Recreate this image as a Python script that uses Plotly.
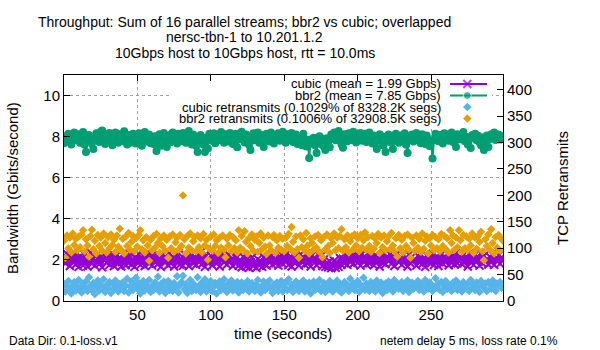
import plotly.graph_objects as go

# ---------------- data ----------------
time_s = list(range(0, 300))

cubic_gbps = [
    2.22, 1.84, 2.30, 1.96, 1.70, 2.14, 1.88, 2.34, 1.78, 2.08,
    1.66, 2.18, 2.02, 1.74, 2.26, 1.92, 1.68, 2.12, 2.36, 1.82,
    2.04, 1.72, 1.94, 2.28, 1.80, 2.16, 1.64, 2.06, 2.32, 1.86,
    2.20, 1.76, 1.98, 2.30, 1.70, 1.90, 2.24, 1.84, 2.10, 1.68,
    2.26, 1.94, 1.74, 2.18, 1.86, 2.34, 1.78, 2.04, 1.66, 2.14,
    1.90, 2.28, 1.76, 2.00, 2.22, 1.70, 1.96, 2.38, 1.82, 2.12,
    1.72, 2.20, 1.88, 2.30, 1.80, 2.06, 1.66, 2.24, 1.92, 2.16,
    1.98, 1.74, 2.32, 1.84, 2.10, 1.68, 2.26, 1.90, 2.34, 1.78,
    2.02, 1.72, 2.28, 1.94, 2.18, 1.70, 2.00, 2.30, 1.82, 2.14,
    1.76, 2.24, 1.88, 2.36, 1.80, 2.08, 1.66, 2.22, 1.86, 2.04,
    2.20, 1.74, 1.96, 2.28, 1.84, 2.12, 1.68, 2.06, 2.32, 1.88,
    2.10, 1.78, 2.26, 1.92, 2.02, 1.70, 2.18, 1.82, 2.14, 1.72,
    1.94, 1.64, 2.16, 1.80, 1.68, 2.06, 1.62, 1.90, 2.12, 1.70,
    1.86, 1.62, 2.04, 1.74, 1.92, 1.66, 2.14, 1.78, 1.72, 2.08,
    1.88, 2.24, 1.76, 2.10, 1.84, 2.30, 1.72, 2.00, 2.26, 1.80,
    2.16, 1.90, 2.34, 1.76, 2.06, 1.68, 2.28, 1.86, 2.20, 1.96,
    1.72, 2.26, 1.90, 2.12, 1.78, 2.32, 1.84, 2.16, 1.68, 2.22,
    1.96, 2.06, 1.74, 2.28, 1.86, 2.18, 1.70, 2.02, 1.66, 1.84,
    1.64, 1.92, 1.60, 1.74, 1.96, 1.62, 1.82, 1.66, 2.08, 1.76,
    2.06, 1.84, 2.24, 1.76, 2.14, 1.90, 2.32, 1.80, 2.10, 2.20,
    1.86, 2.18, 1.72, 2.30, 1.94, 2.04, 1.78, 2.34, 1.84, 2.12,
    2.00, 1.74, 2.24, 1.90, 2.10, 1.68, 2.20, 1.86, 2.32, 1.80,
    2.14, 1.94, 2.28, 1.82, 2.18, 1.70, 2.06, 2.30, 1.88, 2.00,
    1.76, 2.22, 1.92, 2.12, 1.68, 2.26, 1.84, 2.16, 1.96, 2.02,
    1.72, 2.20, 1.88, 2.28, 1.80, 2.06, 1.66, 2.22, 1.92, 2.10,
    1.84, 2.30, 1.76, 2.02, 2.18, 1.70, 1.98, 2.26, 1.82, 2.14,
    1.90, 2.06, 1.74, 2.28, 1.86, 2.20, 1.78, 2.36, 1.84, 2.10,
    2.00, 1.80, 2.24, 1.92, 2.16, 1.68, 2.30, 1.88, 2.06, 1.76,
    2.26, 1.96, 2.10, 1.72, 2.34, 1.84, 2.20, 1.92, 2.02, 1.78,
    2.16, 1.88, 2.28, 1.76, 2.06, 1.94, 2.22, 1.82, 2.12, 1.98,
]

bbr2_gbps = [
    7.68, 8.02, 7.76, 8.14, 7.90, 7.62, 8.06, 8.20, 7.82, 7.96,
    8.12, 7.70, 7.94, 8.22, 7.60, 7.25, 7.86, 8.08, 7.98, 7.66,
    7.40, 7.92, 8.16, 8.00, 7.74, 8.24, 8.30, 7.88, 7.64, 8.10,
    7.96, 8.18, 7.80, 7.58, 8.04, 8.20, 7.86, 7.70, 8.12, 7.94,
    7.78, 8.26, 7.98, 7.62, 8.08, 7.90, 7.72, 8.14, 8.00, 7.66,
    7.92, 8.16, 7.84, 7.56, 8.04, 8.22, 7.76, 7.96, 8.10, 7.68,
    7.90, 7.64, 8.02, 7.30, 7.82, 8.12, 7.56, 7.94, 8.18, 7.80,
    7.50, 7.98, 8.08, 7.74, 8.20, 7.86, 8.02, 7.66, 8.14, 7.92,
    7.78, 8.18, 7.96, 7.70, 8.06, 8.28, 7.88, 7.62, 8.10, 7.84,
    7.55, 7.25, 7.90, 8.08, 7.72, 7.60, 7.25, 7.96, 7.42, 8.14,
    7.98, 7.80, 8.16, 7.68, 8.02, 8.10, 7.84, 8.22, 7.92, 7.70,
    8.12, 7.88, 7.76, 8.18, 7.98, 7.64, 8.04, 8.14, 7.48, 7.86,
    8.06, 8.24, 7.90, 7.72, 8.10, 7.96, 7.60, 7.35, 7.88, 8.16,
    7.82, 8.02, 8.20, 7.70, 7.94, 8.08, 7.50, 7.86, 8.14, 7.96,
    7.76, 8.20, 7.98, 7.66, 8.06, 7.88, 8.16, 7.80, 8.02, 8.24,
    7.92, 7.70, 8.12, 7.98, 7.84, 8.18, 7.74, 7.96, 8.10, 7.64,
    8.00, 7.80, 7.58, 8.14, 7.88, 7.52, 7.74, 6.96, 7.86, 7.66,
    7.94, 7.58, 7.20, 7.82, 8.02, 7.64, 7.90, 7.52, 7.35, 7.92,
    7.78, 7.48, 8.10, 7.96, 8.20, 7.82, 8.04, 8.28, 7.88, 7.62,
    7.46, 8.12, 7.94, 7.78, 8.16, 8.00, 7.84, 8.24, 7.96, 7.72,
    8.08, 7.88, 8.18, 7.80, 8.02, 8.14, 7.74, 7.96, 8.20, 7.86,
    7.66, 8.06, 7.92, 7.40, 7.84, 8.12, 7.90, 7.58, 8.00, 7.25,
    7.86, 8.10, 7.74, 7.98, 7.40, 7.82, 8.14, 7.94, 7.70, 8.06,
    7.90, 7.78, 8.16, 7.60, 7.20, 7.86, 8.02, 8.10, 7.76, 7.98,
    8.18, 7.82, 8.04, 7.68, 8.12, 7.94, 7.64, 8.06, 7.86, 7.54,
    7.76, 6.93, 7.84, 8.14, 7.98, 7.78, 8.08, 7.90, 7.66, 8.16,
    7.94, 8.10, 7.80, 8.02, 8.20, 7.74, 7.96, 7.50, 8.12, 7.86,
    8.04, 7.88, 8.22, 7.78, 8.00, 7.62, 7.90, 7.45, 8.08, 7.94,
    8.14, 7.82, 8.04, 7.72, 7.58, 7.96, 7.35, 7.80, 8.06, 7.50,
    7.88, 8.12, 7.96, 8.20, 7.84, 8.04, 8.10, 7.86, 7.98, 8.02,
]

cubic_retrans = [
    32, 18, 27, 38, 22, 14, 30, 36, 20, 28,
    40, 24, 16, 33, 26, 37, 19, 45, 29, 21,
    34, 13, 28, 39, 20, 31, 24, 41, 17, 30,
    25, 36, 15, 33, 22, 39, 27, 18, 32, 23,
    35, 19, 29, 42, 16, 28, 37, 21, 31, 44,
    23, 34, 14, 27, 38, 20, 31, 25, 40, 17,
    29, 21, 35, 26, 46, 18, 32, 23, 37, 15,
    27, 38, 21, 31, 19, 34, 25, 47, 16, 30,
    36, 48, 22, 32, 15, 27, 40, 19, 33, 24,
    21, 45, 29, 17, 35, 25, 41, 18, 31, 23,
    38, 19, 27, 34, 14, 29, 37, 21, 31, 41,
    25, 17, 33, 27, 39, 20, 31, 23, 36, 16,
    29, 35, 21, 31, 25, 38, 18, 27, 34, 22,
    19, 31, 40, 25, 16, 29, 37, 21, 33, 27,
    39, 23, 15, 31, 25, 35, 19, 29, 38, 18,
    27, 34, 21, 41, 23, 31, 17, 29, 37, 25,
    19, 33, 27, 39, 18, 31, 23, 35, 14, 29,
    37, 21, 31, 25, 40, 19, 27, 34, 17, 29,
    23, 38, 27, 18, 33, 25, 39, 21, 31, 16,
    29, 36, 23, 31, 19, 42, 25, 33, 21, 29,
    38, 17, 31, 25, 44, 21, 33, 27, 19, 36,
    25, 31, 18, 39, 27, 23, 35, 15, 29, 33,
    21, 37, 27, 31, 18, 40, 25, 33, 23, 29,
    36, 19, 31, 25, 39, 17, 29, 35, 23, 31,
    27, 38, 21, 33, 25, 18, 40, 29, 23, 35,
    31, 19, 27, 43, 25, 33, 21, 36, 17, 29,
    38, 23, 31, 27, 19, 35, 25, 39, 21, 31,
    27, 18, 36, 29, 23, 33, 19, 40, 25, 31,
    21, 35, 27, 17, 38, 29, 25, 33, 19, 36,
    31, 23, 39, 27, 19, 33, 29, 36, 25, 31,
]

bbr2_retrans = [
    114, 82, 124, 100, 120, 92, 128, 106, 118, 96,
    122, 102, 126, 134, 94, 117, 105, 84, 123, 135,
    98, 114, 90, 125, 104, 120, 95, 128, 110, 92,
    121, 100, 126, 106, 116, 93, 124, 103, 137, 96,
    118, 90, 122, 104, 129, 97, 112, 123, 94, 119,
    103, 125, 134, 98, 115, 92, 121, 105, 76, 116,
    96, 123, 101, 127, 110, 91, 119, 104, 124, 95,
    116, 82, 122, 100, 126, 93, 111, 120, 97, 125,
    104, 200, 117, 90, 123, 101, 128, 96, 113, 121,
    94, 124, 102, 119, 92, 127, 105, 116, 78, 99,
    122, 95, 126, 104, 115, 91, 120, 101, 124, 97,
    83, 118, 105, 125, 94, 121, 100, 115, 92, 134,
    101, 123, 96, 132, 112, 90, 119, 104, 126, 95,
    116, 122, 93, 110, 128, 98, 120, 103, 89, 124,
    105, 96, 121, 125, 91, 115, 101, 123, 97, 118,
    94, 120, 104, 127, 99, 140, 112, 92, 122, 98,
    82, 124, 102, 117, 95, 129, 105, 90, 119, 110,
    97, 122, 101, 125, 93, 115, 83, 121, 98, 126,
    104, 91, 119, 110, 128, 96, 120, 100, 123, 136,
    95, 117, 102, 124, 92, 113, 122, 98, 126, 105,
    119, 94, 125, 101, 115, 130, 97, 121, 104, 93,
    123, 99, 118, 110, 127, 91, 120, 102, 124, 96,
    113, 122, 98, 129, 105, 94, 119, 84, 125, 100,
    116, 92, 123, 104, 126, 97, 82, 120, 110, 95,
    124, 101, 118, 93, 128, 99, 114, 122, 90, 119,
    105, 125, 96, 121, 100, 117, 94, 127, 104, 123,
    98, 119, 92, 134, 110, 124, 97, 120, 102, 134,
    115, 93, 125, 100, 122, 96, 118, 105, 128, 91,
    120, 99, 123, 112, 131, 94, 77, 117, 104, 126,
    97, 136, 110, 90, 121, 101, 125, 95, 118, 114,
]

series_names = [
    "cubic (mean = 1.99 Gbps)",
    "bbr2 (mean = 7.85 Gbps)",
    "cubic retransmits (0.1029% of 8328.2K segs)",
    "bbr2 retransmits (0.1006% of 32908.5K segs)",
]
title_lines = [
    "Throughput: Sum of 16 parallel streams; bbr2 vs cubic; overlapped",
    "nersc-tbn-1 to 10.201.1.2",
    "10Gbps host to 10Gbps host, rtt = 10.0ms",
]
x_ticks = [50, 100, 150, 200, 250]
y_ticks = [0, 2, 4, 6, 8, 10]
y2_ticks = [0, 50, 100, 150, 200, 250, 300, 350, 400]

# ---------------- style ----------------
FONT = "Liberation Sans, Arial, sans-serif"
C_CUBIC = "#9400D3"
C_BBR2 = "#009E73"
C_CRET = "#56B4E9"
C_BRET = "#E69F00"
GRID = "#a0a0a0"

fig = go.Figure()

fig.add_trace(go.Scatter(
    x=time_s, y=cubic_gbps, mode="lines+markers", name=series_names[0],
    line=dict(color=C_CUBIC, width=2),
    marker=dict(symbol="x-thin", size=8, line=dict(color=C_CUBIC, width=2), color=C_CUBIC),
    xaxis="x", yaxis="y", showlegend=False))
fig.add_trace(go.Scatter(
    x=time_s, y=bbr2_gbps, mode="lines+markers", name=series_names[1],
    line=dict(color=C_BBR2, width=2),
    marker=dict(symbol="circle", size=8, color=C_BBR2),
    xaxis="x", yaxis="y", showlegend=False))
fig.add_trace(go.Scatter(
    x=time_s, y=cubic_retrans, mode="markers", name=series_names[2],
    marker=dict(symbol="diamond", size=6.5, color=C_CRET),
    xaxis="x", yaxis="y2", showlegend=False))
fig.add_trace(go.Scatter(
    x=time_s, y=bbr2_retrans, mode="markers", name=series_names[3],
    marker=dict(symbol="diamond", size=6.5, color=C_BRET),
    xaxis="x", yaxis="y2", showlegend=False))

# ---------------- key (drawn on a hidden overlay axis, unit coordinates) ----------------
key_box_x = [0.24, 0.975, 0.975, 0.24, 0.24]
key_box_y = [0.775, 0.775, 0.99, 0.99, 0.775]
fig.add_trace(go.Scatter(
    x=key_box_x, y=key_box_y, mode="lines", fill="toself", fillcolor="white",
    line=dict(width=0, color="white"), xaxis="x3", yaxis="y3", showlegend=False,
    hoverinfo="skip"))

key_rows = [0.9602, 0.9093, 0.8584, 0.8075]
key_text_x = 0.8626
key_line = [0.8793, 0.9187, 0.9636]

fig.add_trace(go.Scatter(
    x=key_line, y=[key_rows[0]] * 3, mode="lines+markers",
    line=dict(color=C_CUBIC, width=2),
    marker=dict(symbol="x-thin", size=[0, 8, 0], line=dict(color=C_CUBIC, width=2), color=C_CUBIC),
    xaxis="x3", yaxis="y3", showlegend=False, hoverinfo="skip"))
fig.add_trace(go.Scatter(
    x=key_line, y=[key_rows[1]] * 3, mode="lines+markers",
    line=dict(color=C_BBR2, width=2),
    marker=dict(symbol="circle", size=[0, 8, 0], color=C_BBR2),
    xaxis="x3", yaxis="y3", showlegend=False, hoverinfo="skip"))
fig.add_trace(go.Scatter(
    x=[key_line[1]], y=[key_rows[2]], mode="markers",
    marker=dict(symbol="diamond", size=6.5, color=C_CRET),
    xaxis="x3", yaxis="y3", showlegend=False, hoverinfo="skip"))
fig.add_trace(go.Scatter(
    x=[key_line[1]], y=[key_rows[3]], mode="markers",
    marker=dict(symbol="diamond", size=6.5, color=C_BRET),
    xaxis="x3", yaxis="y3", showlegend=False, hoverinfo="skip"))

annotations = []
for name, ry in zip(series_names, key_rows):
    annotations.append(dict(text=name, x=key_text_x, y=ry, xref="paper", yref="paper",
                            xanchor="right", yanchor="middle", showarrow=False,
                            font=dict(family=FONT, size=13, color="black")))

for line, ty in zip(title_lines, [1.233, 1.166, 1.099]):
    annotations.append(dict(text=line, x=0.4123, y=ty, xref="paper", yref="paper",
                            xanchor="center", yanchor="middle", showarrow=False,
                            font=dict(family=FONT, size=14, color="black")))

annotations += [
    dict(text="Bandwidth (Gbits/second)", x=-0.1185, y=0.5, xref="paper", yref="paper",
         textangle=-90, xanchor="center", yanchor="middle", showarrow=False,
         font=dict(family=FONT, size=15, color="black")),
    dict(text="TCP Retransmits", x=1.1344, y=0.5, xref="paper", yref="paper",
         textangle=-90, xanchor="center", yanchor="middle", showarrow=False,
         font=dict(family=FONT, size=15, color="black")),
    dict(text="time (seconds)", x=0.4989, y=-0.146, xref="paper", yref="paper",
         xanchor="center", yanchor="middle", showarrow=False,
         font=dict(family=FONT, size=15, color="black")),
    dict(text="Data Dir: 0.1-loss.v1", x=-0.1298, y=-0.176, xref="paper", yref="paper",
         xanchor="left", yanchor="middle", showarrow=False,
         font=dict(family=FONT, size=12, color="black")),
    dict(text="netem delay 5 ms, loss rate 0.1%", x=0.7153, y=-0.178, xref="paper", yref="paper",
         xanchor="left", yanchor="middle", showarrow=False,
         font=dict(family=FONT, size=12, color="black")),
]

axis_common = dict(showline=True, linecolor="black", linewidth=1, ticks="inside",
                   ticklen=6, tickcolor="black", tickwidth=1,
                   tickfont=dict(family=FONT, size=15, color="black"), zeroline=False)

fig.update_layout(
    width=600, height=350,
    margin=dict(l=64, r=97, t=75, b=49, pad=0),
    paper_bgcolor="white", plot_bgcolor="white",
    showlegend=False,
    annotations=annotations,
    xaxis=dict(range=[0, 299], tickvals=x_ticks, showgrid=True, gridcolor=GRID,
               griddash="3px,3px", gridwidth=1, mirror="ticks", **axis_common),
    yaxis=dict(range=[0, 11], tickvals=y_ticks, showgrid=True, gridcolor=GRID,
               griddash="3px,3px", gridwidth=1, mirror=True, **axis_common),
    yaxis2=dict(range=[0, 428], tickvals=y2_ticks, overlaying="y", side="right",
                showgrid=False, **axis_common),
    xaxis3=dict(range=[0, 1], overlaying="x", visible=False, fixedrange=True),
    yaxis3=dict(range=[0, 1], overlaying="y", visible=False, fixedrange=True),
)

fig.write_html("out.html")
